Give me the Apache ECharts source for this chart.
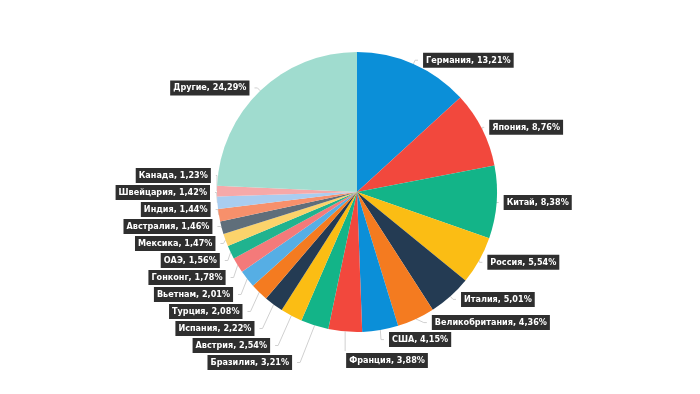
<!DOCTYPE html>
<html><head><meta charset="utf-8">
<script src="https://cdn.jsdelivr.net/npm/echarts@6/dist/echarts.min.js"></script>
<style>html,body{margin:0;padding:0;background:#fff}#c{width:700px;height:394px}</style>
</head><body><div id="c"></div>
<script>
const countries = ['Германия','Япония','Китай','Россия','Италия','Великобритания','США','Франция','Бразилия','Австрия','Испания','Турция','Вьетнам','Гонконг','ОАЭ','Мексика','Австралия','Индия','Швейцария','Канада','Другие'];
const shares = [13.21,8.76,8.38,5.54,5.01,4.36,4.15,3.88,3.21,2.54,2.22,2.08,2.01,1.78,1.56,1.47,1.46,1.44,1.42,1.23,24.29];
const colors = ['#0b8fd8','#f2483d','#13b488','#fbbd14','#243b53','#f47b20','#0b8fd8','#f2483d','#13b488','#fbbd14','#243b53','#f47b20','#56aee4','#f47a7a','#20b38f','#fbd36b','#5f6e7a','#f7906b','#a9cdf0','#f6a9a9','#a0dccf'];

// France's label joins the right-hand stack, just under the USA label (as in the original)
const usaIdx = countries.indexOf('США');
const franceIdx = countries.indexOf('Франция');
let usaRect = null;

const chart = echarts.init(document.getElementById('c'));
chart.setOption({
  animation: false,
  series: [{
    type: 'pie',
    left: 0, top: 0, right: 0, bottom: 6,
    center: [357, 192],
    radius: [0, 140],
    startAngle: 90,
    clockwise: true,
    data: countries.map((n, i) => ({ name: n, value: shares[i], itemStyle: { color: colors[i] } })),
    label: {
      show: true,
      position: 'outside',
      formatter: p => p.name + ', ' + p.value.toFixed(2).replace('.', ',') + '%',
      color: '#fff',
      backgroundColor: '#2f2f2f',
      fontFamily: '"Liberation Sans Narrow", "DejaVu Sans Condensed", sans-serif',
      fontWeight: 'bold',
      fontSize: 9,
      padding: [2, 3],
      lineHeight: 11
    },
    labelLine: { show: true, length: 4, length2: 3, lineStyle: { color: '#d0d0d0', width: 1 } },
    labelLayout: function (params) {
      if (params.dataIndex === usaIdx) { usaRect = params.labelRect; return {}; }
      if (params.dataIndex === franceIdx && params.labelLinePoints) {
        const p0 = params.labelLinePoints[0];
        const top = usaRect ? usaRect.y + usaRect.height + 4 : p0[1] + 20;
        return {
          x: p0[0] + 1,
          y: top + 2,
          align: 'left',
          verticalAlign: 'top',
          labelLinePoints: [[p0[0], p0[1]], [p0[0], top], [p0[0], top]]
        };
      }
      return {};
    },
    emphasis: { disabled: true }
  }]
});
</script></body></html>
